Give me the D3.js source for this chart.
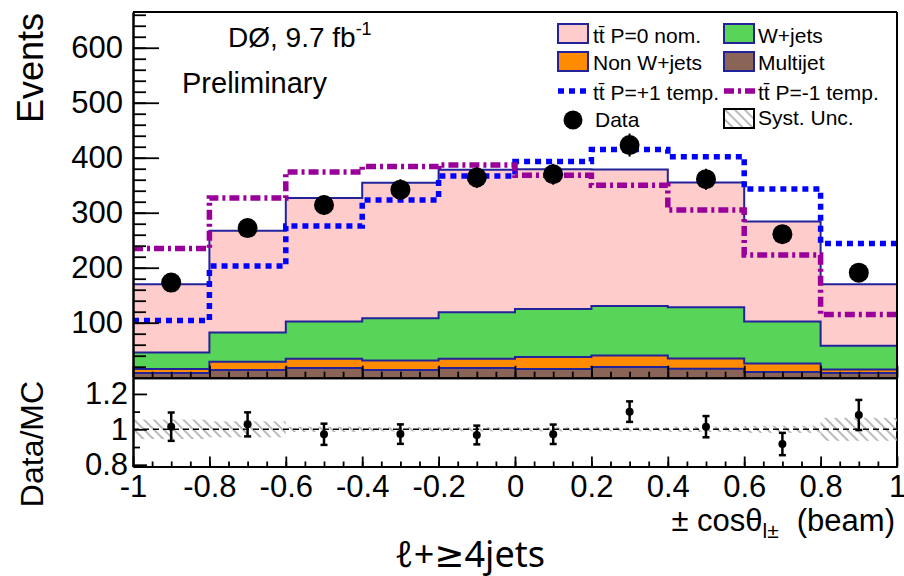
<!DOCTYPE html>
<html>
<head>
<meta charset="utf-8" />
<title>D0 lepton angle, l+jets</title>
<script src="https://d3js.org/d3.v7.min.js"></script>
<style>
  body { margin: 0; background: #fff; }
  svg text { font-family: "Liberation Sans", Arial, sans-serif; fill: #000; }
</style>
</head>
<body>
<svg id="canvas" width="904" height="576"></svg>
<script>
// ---- data ----
var binEdges = [-1, -0.8, -0.6, -0.4, -0.2, 0, 0.2, 0.4, 0.6, 0.8, 1];
var xTickLabels = ["-1", "-0.8", "-0.6", "-0.4", "-0.2", "0", "0.2", "0.4", "0.6", "0.8", "1"];
var yTicks = [100, 200, 300, 400, 500, 600];
var ratioTicks = [0.8, 1, 1.2];
var ratioTickLabels = ["0.8", "1", "1.2"];

// stacked MC components (events per bin)
var multijet = [8.5, 14, 17.5, 14, 17.5, 16, 19.5, 16.5, 10.5, 8.5];
var nonW = [7.5, 15, 17, 17.5, 17, 21.5, 21, 18.5, 15.5, 6.5];
var wjets = [30, 53, 67.5, 76.5, 84.5, 87.5, 90, 93, 76, 43];
var ttbarNom = [124, 185, 225, 246.5, 259, 254, 248, 227, 182, 112];

// templates (total prediction)
var ttPlus1 = [104, 203, 276, 323, 367, 393, 415, 402, 343, 244];
var ttMinus1 = [235, 327, 374, 384, 387, 368, 350, 305, 223, 115];

// data
var dataVals = [173, 272, 314, 342, 364, 370, 423, 361, 261, 191];
var dataErr = [13, 16, 18, 19, 19, 19, 21, 19, 16, 14];

// ratio panel
var ratioVals = [1.015, 1.028, 0.972, 0.973, 0.968, 0.972, 1.10, 1.015, 0.917, 1.081];
var ratioErr = [0.08, 0.068, 0.06, 0.055, 0.053, 0.055, 0.058, 0.06, 0.063, 0.085];
var systUnc = [0.055, 0.045, 0.015, 0.012, 0.012, 0.012, 0.012, 0.015, 0.02, 0.065];

var canvas = d3.select("#canvas");

// scales
var x = d3.scaleLinear().domain([-1, 1]).range([133, 897]);
var y = d3.scaleLinear().domain([0, 665]).range([377.7, 12]);
var yr = d3.scaleLinear().domain([0.79, 1.29]).range([466.5, 378]);

var navy = "#22229a";

// hatch pattern for syst band
var defs = canvas.append("defs");
defs.append("pattern")
  .attr("id", "hatch")
  .attr("patternUnits", "userSpaceOnUse")
  .attr("width", 7).attr("height", 7)
  .attr("patternTransform", "rotate(-45)")
  .append("line")
  .attr("x1", 1).attr("y1", 0).attr("x2", 1).attr("y2", 7)
  .attr("stroke", "#a8a8a8").attr("stroke-width", 1.6);

// ---- stack ----
var rows = multijet.map(function (d, i) {
  return { multijet: d, nonW: nonW[i], wjets: wjets[i], ttbar: ttbarNom[i] };
});
var stacked = d3.stack().keys(["multijet", "nonW", "wjets", "ttbar"])(rows);
var fills = { multijet: "#8a6456", nonW: "#ff8c00", wjets: "#58d458", ttbar: "#ffcccc" };

function stepPoints(lo, hi) {
  // two points per bin so the path has flat tops and vertical steps
  var pts = [];
  hi.forEach(function (v, i) {
    pts.push({ x: binEdges[i], y0: lo[i], y1: v });
    pts.push({ x: binEdges[i + 1], y0: lo[i], y1: v });
  });
  return pts;
}

var area = d3.area()
  .x(function (d) { return x(d.x); })
  .y0(function (d) { return y(d.y0); })
  .y1(function (d) { return y(d.y1); });
var topLine = d3.line()
  .x(function (d) { return x(d.x); })
  .y(function (d) { return y(d.y1); });

var stackG = canvas.append("g");
stacked.forEach(function (layer) {
  var pts = stepPoints(layer.map(function (d) { return d[0]; }), layer.map(function (d) { return d[1]; }));
  stackG.append("path").attr("d", area(pts)).attr("fill", fills[layer.key]);
});
stacked.forEach(function (layer) {
  var pts = stepPoints(layer.map(function (d) { return d[0]; }), layer.map(function (d) { return d[1]; }));
  stackG.append("path").attr("d", topLine(pts))
    .attr("fill", "none").attr("stroke", navy).attr("stroke-width", 2);
});

// ---- template lines ----
function tmplPath(vals) {
  return topLine(stepPoints(vals, vals));
}
canvas.append("path").attr("d", tmplPath(ttPlus1))
  .attr("fill", "none").attr("stroke", "#0000ff")
  .attr("stroke-width", 5.5).attr("stroke-dasharray", "6,5");
canvas.append("path").attr("d", tmplPath(ttMinus1))
  .attr("fill", "none").attr("stroke", "#990099")
  .attr("stroke-width", 5.5).attr("stroke-dasharray", "10,4,3,4");

// ---- axes (main) ----
function styleAxis(g, w) {
  g.selectAll("path.domain").attr("stroke", "#000").attr("stroke-width", w);
  g.selectAll("line").attr("stroke", "#000").attr("stroke-width", 1.8);
  g.selectAll("text").attr("font-family", "Liberation Sans, Arial, sans-serif").attr("font-size", 31).attr("fill", "#000");
}

var yMinorVals = d3.range(20, 665, 20);
var gyMinor = canvas.append("g").attr("transform", "translate(133,0)")
  .call(d3.axisLeft(y).tickValues(yMinorVals).tickSize(-13).tickSizeOuter(0).tickFormat(""));
styleAxis(gyMinor, 2);
var gy = canvas.append("g").attr("transform", "translate(133,0)")
  .call(d3.axisLeft(y).tickValues(yTicks).tickSize(-26).tickSizeOuter(0).tickPadding(10));
styleAxis(gy, 2);

var xMinorVals = d3.range(-0.95, 1, 0.05);
var gxMinor = canvas.append("g").attr("transform", "translate(0," + y(0) + ")")
  .call(d3.axisBottom(x).tickValues(xMinorVals).tickSize(-6).tickSizeOuter(0).tickFormat(""));
styleAxis(gxMinor, 2);
var gx = canvas.append("g").attr("transform", "translate(0," + y(0) + ")")
  .call(d3.axisBottom(x).tickValues(binEdges).tickSize(-12).tickSizeOuter(0).tickFormat(""));
styleAxis(gx, 2);

// frame top & right
canvas.append("line").attr("x1", 133).attr("x2", 897).attr("y1", 12).attr("y2", 12)
  .attr("stroke", "#000").attr("stroke-width", 2);
canvas.append("line").attr("x1", 897).attr("x2", 897).attr("y1", 12).attr("y2", 466.5)
  .attr("stroke", "#000").attr("stroke-width", 2);

// ---- data points ----
var dataG = canvas.append("g");
dataVals.forEach(function (v, i) {
  var cx = x((binEdges[i] + binEdges[i + 1]) / 2);
  dataG.append("line").attr("x1", cx).attr("x2", cx)
    .attr("y1", y(v - dataErr[i])).attr("y2", y(v + dataErr[i]))
    .attr("stroke", "#000").attr("stroke-width", 2);
  dataG.append("circle").attr("cx", cx).attr("cy", y(v)).attr("r", 10).attr("fill", "#000");
});

// ---- ratio panel ----
var rG = canvas.append("g");
systUnc.forEach(function (s, i) {
  rG.append("rect")
    .attr("x", x(binEdges[i])).attr("width", x(binEdges[i + 1]) - x(binEdges[i]))
    .attr("y", yr(1 + s)).attr("height", yr(1 - s) - yr(1 + s))
    .attr("fill", "url(#hatch)");
});
rG.append("line").attr("x1", x(-1)).attr("x2", x(1)).attr("y1", yr(1)).attr("y2", yr(1))
  .attr("stroke", "#000").attr("stroke-width", 1.5).attr("stroke-dasharray", "6,4");
ratioVals.forEach(function (v, i) {
  var cx = x((binEdges[i] + binEdges[i + 1]) / 2);
  var top = yr(v + ratioErr[i]), bot = yr(v - ratioErr[i]);
  rG.append("line").attr("x1", cx).attr("x2", cx).attr("y1", top).attr("y2", bot)
    .attr("stroke", "#000").attr("stroke-width", 2.5);
  [top, bot].forEach(function (yy) {
    rG.append("line").attr("x1", cx - 3.5).attr("x2", cx + 3.5).attr("y1", yy).attr("y2", yy)
      .attr("stroke", "#000").attr("stroke-width", 2.5);
  });
  rG.append("circle").attr("cx", cx).attr("cy", yr(v)).attr("r", 4).attr("fill", "#000");
});

var gryMinor = canvas.append("g").attr("transform", "translate(133,0)")
  .call(d3.axisLeft(yr).tickValues([0.9, 1.1]).tickSize(-7).tickSizeOuter(0).tickFormat(""));
styleAxis(gryMinor, 2);
var gry = canvas.append("g").attr("transform", "translate(133,0)")
  .call(d3.axisLeft(yr).tickValues(ratioTicks).tickSize(-14).tickSizeOuter(0).tickPadding(5)
    .tickFormat(function (d, i) { return ratioTickLabels[i]; }));
styleAxis(gry, 2);

var grxMinor = canvas.append("g").attr("transform", "translate(0,466.5)")
  .call(d3.axisBottom(x).tickValues(xMinorVals).tickSize(-5).tickSizeOuter(0).tickFormat(""));
styleAxis(grxMinor, 2);
var grx = canvas.append("g").attr("transform", "translate(0,466.5)")
  .call(d3.axisBottom(x).tickValues(binEdges).tickSize(-10).tickSizeOuter(0).tickPadding(8)
    .tickFormat(function (d, i) { return xTickLabels[i]; }));
styleAxis(grx, 2);
grx.selectAll("text").attr("y", 8);

// ---- axis titles ----
canvas.append("text").attr("transform", "translate(43,13) rotate(-90)")
  .attr("text-anchor", "end").attr("font-size", 36).text("Events");
canvas.append("text").attr("transform", "translate(43,444) rotate(-90)")
  .attr("text-anchor", "middle").attr("font-size", 32).text("Data/MC");

var xt = canvas.append("text").attr("x", 895).attr("y", 531)
  .attr("text-anchor", "end").attr("font-size", 31);
xt.append("tspan").text("\u00b1  cos\u03b8");
xt.append("tspan").attr("font-size", 21).attr("dy", 7).text("l\u00b1");
xt.append("tspan").attr("dy", -7).attr("dx", 18).text("(beam)");

// ---- labels on plot ----
var lumi = canvas.append("text").attr("x", 228).attr("y", 47).attr("font-size", 28);
lumi.append("tspan").text("D\u00d8, 9.7 fb");
lumi.append("tspan").attr("font-size", 18).attr("dy", -12).text("-1");
canvas.append("text").attr("x", 182).attr("y", 93).attr("font-size", 29).text("Preliminary");

// ---- legend ----
var lg = canvas.append("g").attr("font-size", 21);
function legBox(bx, by, fill, stroke) {
  lg.append("rect").attr("x", bx).attr("y", by).attr("width", 30).attr("height", 19)
    .attr("fill", fill).attr("stroke", stroke).attr("stroke-width", 2);
}
function legText(tx, ty, s) {
  lg.append("text").attr("x", tx).attr("y", ty).text(s);
}
legBox(558, 24, fills.ttbar, navy);
legText(593, 43, "tt\u0304 P=0 nom.");
legBox(724, 24, fills.wjets, navy);
legText(758, 43, "W+jets");
legBox(558, 52, fills.nonW, navy);
legText(593, 70, "Non W+jets");
legBox(724, 52, fills.multijet, navy);
legText(758, 70, "Multijet");
lg.append("line").attr("x1", 558).attr("x2", 590).attr("y1", 91).attr("y2", 91)
  .attr("stroke", "#0000ff").attr("stroke-width", 5.5).attr("stroke-dasharray", "6,5");
legText(593, 100, "tt\u0304 P=+1 temp.");
lg.append("line").attr("x1", 724).attr("x2", 756).attr("y1", 91).attr("y2", 91)
  .attr("stroke", "#990099").attr("stroke-width", 5.5).attr("stroke-dasharray", "10,4,3,4");
legText(758, 100, "tt\u0304 P=-1 temp.");
lg.append("circle").attr("cx", 573).attr("cy", 120).attr("r", 9.5).attr("fill", "#000");
legText(595, 127, "Data");
legBox(724, 109, "url(#hatch)", "#000");
legText(758, 125, "Syst. Unc.");

// ---- caption ----
canvas.append("text").attr("x", 470).attr("y", 567).attr("text-anchor", "middle")
  .attr("font-size", 36).style("font-family", "'Noto Sans', 'DejaVu Sans', sans-serif")
  .text("\u2113+\u22654jets");
</script>
</body>
</html>
